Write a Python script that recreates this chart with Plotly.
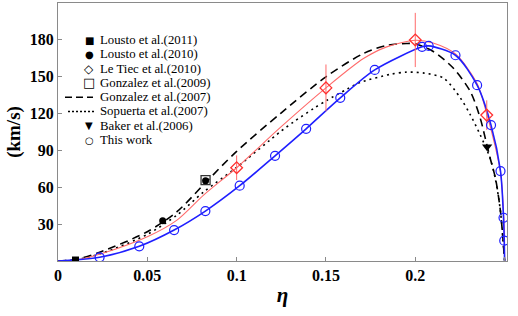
import plotly.graph_objects as go

# ---------------- data ----------------
# This work (blue circles + fit line)
eta_this = [0.0233, 0.0455, 0.065, 0.0825, 0.1017, 0.1215, 0.1389, 0.158, 0.1773,
            0.2038, 0.2075, 0.2225, 0.2346, 0.2424, 0.2477, 0.2494, 0.2498]
v_this = [3.0, 11.9, 25.1, 40.5, 61.1, 85.4, 107.3, 132.4, 155.1,
          173.8, 174.6, 167.0, 142.7, 110.3, 73.0, 35.1, 16.5]

# Le Tiec et al. (2010): diamonds with error bars, and red fit curve
eta_letiec = [0.1, 0.15, 0.2, 0.24]
v_letiec = [75.7, 140.5, 179.4, 118.4]
err_letiec = [10, 19, 22, 12]
eta_red = [0, 0.01, 0.025, 0.05, 0.0666, 0.0815, 0.1, 0.1245, 0.15, 0.171, 0.184,
           0.2, 0.21, 0.2225, 0.2346, 0.2402, 0.2449, 0.2477, 0.2495, 0.25]
v_red = [0, 0.8, 6.3, 19.7, 33.2, 53.5, 75.7, 108.4, 140.5, 164.3, 173.8,
         179.2, 177.0, 168.0, 144.0, 118.4, 92.0, 72.0, 36.0, 0]

# Gonzalez et al. (2007): dashed curve
eta_gonz07 = [0, 0.01, 0.0237, 0.05, 0.0666, 0.0815, 0.1, 0.1245, 0.15, 0.171, 0.184,
              0.195, 0.2, 0.2103, 0.2215, 0.2309, 0.2364, 0.2392, 0.242, 0.2449, 0.2477, 0.25]
v_gonz07 = [0, 1.2, 7.3, 23.8, 40.0, 62.0, 89.0, 119.7, 149.5, 168.4, 175.0,
            176.5, 176.3, 169.8, 156.2, 137.3, 115.7, 99.5, 83.0, 67.0, 40.0, 0]

# Sopuerta et al. (2007): dotted curve
eta_sop = [0, 0.01, 0.025, 0.05, 0.0666, 0.0815, 0.1, 0.1245, 0.132, 0.1431, 0.1506,
           0.1618, 0.1693, 0.186, 0.195, 0.205, 0.2159, 0.2253, 0.2309, 0.2364,
           0.242, 0.2449, 0.2477, 0.25]
v_sop = [0, 1.0, 6.5, 21.6, 37.3, 56.0, 76.0, 105.0, 113.0, 123.8, 130.5,
         139.5, 145.0, 151.5, 153.3, 152.5, 148.4, 132.2, 118.4, 102.2,
         83.0, 66.0, 40.0, 0]

# Point data
eta_lousto11 = [0.0098]
v_lousto11 = [0.8]
eta_lousto10 = [0.0586, 0.0826]
v_lousto10 = [32.7, 65.2]
eta_gonz09 = [0.0826]
v_gonz09 = [65.7]
eta_baker = [0.2402]
v_baker = [92.7]

x_ticks = [0, 0.05, 0.1, 0.15, 0.2, 0.25]
x_ticklabels = ["0", "0.05", "0.1", "0.15", "0.2", "0.25"]
y_ticks = [30, 60, 90, 120, 150, 180]

legend_labels = ["Lousto et al.(2011)", "Lousto et al.(2010)", "Le Tiec et al.(2010)",
                 "Gonzalez et al.(2009)", "Gonzalez et al.(2007)", "Sopuerta et al.(2007)",
                 "Baker et al.(2006)", "This work"]

# ---------------- figure ----------------
BLUE = "#1f1fff"
RED = "#ff3030"
LRED = "#ff6a6a"

fig = go.Figure()

fig.add_trace(go.Scatter(x=eta_sop, y=v_sop, mode="lines",
                         line=dict(color="black", width=1.6, dash="2px,4px", shape="spline", smoothing=0.8),
                         name=legend_labels[5], showlegend=False))
fig.add_trace(go.Scatter(x=eta_gonz07, y=v_gonz07, mode="lines",
                         line=dict(color="black", width=1.6, dash="8px,5px", shape="spline", smoothing=0.8),
                         name=legend_labels[4], showlegend=False))
fig.add_trace(go.Scatter(x=eta_red, y=v_red, mode="lines",
                         line=dict(color=LRED, width=1.1, shape="spline", smoothing=0.8),
                         name="Le Tiec fit", showlegend=False))
fig.add_trace(go.Scatter(x=[0.0] + eta_this + [0.25], y=[0.0] + v_this + [0.0], mode="lines",
                         line=dict(color=BLUE, width=1.6, shape="spline", smoothing=0.8),
                         name="This work fit", showlegend=False))
fig.add_trace(go.Scatter(x=eta_letiec, y=v_letiec, mode="markers",
                         marker=dict(symbol="diamond-open", size=9, color=RED, line=dict(width=1.3, color=RED)),
                         error_y=dict(type="data", array=err_letiec, color=LRED, thickness=1, width=0),
                         name=legend_labels[2], showlegend=False))
fig.add_trace(go.Scatter(x=eta_this, y=v_this, mode="markers",
                         marker=dict(symbol="circle-open", size=9, color=BLUE, line=dict(width=1.2, color=BLUE)),
                         name=legend_labels[7], showlegend=False))
fig.add_trace(go.Scatter(x=eta_gonz09, y=v_gonz09, mode="markers",
                         marker=dict(symbol="square-open", size=9, color="#333333", line=dict(width=1.3, color="#333333")),
                         name=legend_labels[3], showlegend=False))
fig.add_trace(go.Scatter(x=eta_lousto11, y=v_lousto11, mode="markers",
                         marker=dict(symbol="square", size=7, color="black"),
                         name=legend_labels[0], showlegend=False))
fig.add_trace(go.Scatter(x=eta_lousto10, y=v_lousto10, mode="markers",
                         marker=dict(symbol="circle", size=7, color="black"),
                         name=legend_labels[1], showlegend=False))
fig.add_trace(go.Scatter(x=eta_baker, y=v_baker, mode="markers",
                         marker=dict(symbol="triangle-down", size=9, color="black"),
                         name=legend_labels[6], showlegend=False))

# ---------------- manual legend (compact, like the original) ----------------
L, R, T, B = 58, 11, 3, 55
W, H = 518, 316
PW, PH = W - L - R, H - T - B


def px2paper(px, py):
    return (px - L) / PW, (H - B - py) / PH


row_y = [40 + 14.3 * i for i in range(8)]
glyphs = ["■", "●", "◇", "□", None, None, "▼", "○"]
glyph_sizes = [10, 10, 12, 13, 0, 0, 10, 10]
annotations = []
shapes = []
for i, lab in enumerate(legend_labels):
    tx, ty = px2paper(99, row_y[i])
    annotations.append(dict(x=tx, y=ty, xref="paper", yref="paper", text=lab, showarrow=False,
                            xanchor="left", yanchor="middle", borderpad=0,
                            font=dict(family="Liberation Serif", size=12.8, color="black")))
    if glyphs[i] is not None:
        gx, gy = px2paper(89, row_y[i])
        annotations.append(dict(x=gx, y=gy, xref="paper", yref="paper", text=glyphs[i], showarrow=False,
                                xanchor="center", yanchor="middle", borderpad=0,
                                font=dict(family="DejaVu Sans", size=glyph_sizes[i], color="black")))
x0d, yd = px2paper(65, row_y[4])
x1d, _ = px2paper(93, row_y[4])
shapes.append(dict(type="line", xref="paper", yref="paper", x0=x0d, x1=x1d, y0=yd, y1=yd,
                   line=dict(color="black", width=1.4, dash="7px,4px")))
x0s, ys = px2paper(68, row_y[5])
x1s, _ = px2paper(96, row_y[5])
shapes.append(dict(type="line", xref="paper", yref="paper", x0=x0s, x1=x1s, y0=ys, y1=ys,
                   line=dict(color="black", width=1.4, dash="2px,2px")))

axis_common = dict(showline=True, linecolor="#8a8a8a", linewidth=1, mirror=True, automargin=False,
                   ticks="inside", ticklen=4, tickcolor="#8a8a8a", showgrid=False, zeroline=False,
                   tickfont=dict(family="Liberation Serif", size=16, color="black", weight="bold"))

fig.update_layout(
    width=W, height=H,
    margin=dict(l=L, r=R, t=T, b=B, pad=0),
    paper_bgcolor="white", plot_bgcolor="white",
    showlegend=False,
    xaxis=dict(range=[0, 0.25134], tickvals=x_ticks, ticktext=x_ticklabels,
               title=dict(text="<b><i>η</i></b>", standoff=4,
                          font=dict(family="Liberation Serif", size=21, color="black")),
               **axis_common),
    yaxis=dict(range=[0, 209.4], tickvals=y_ticks,
               title=dict(text="<b>(km/s)</b>", standoff=4,
                          font=dict(family="Liberation Serif", size=19, color="black")),
               **axis_common),
    annotations=annotations,
    shapes=shapes,
)

fig.write_html("out.html", config={"displayModeBar": False},
               post_script="document.body.style.margin='0px';document.body.style.overflow='hidden';")
